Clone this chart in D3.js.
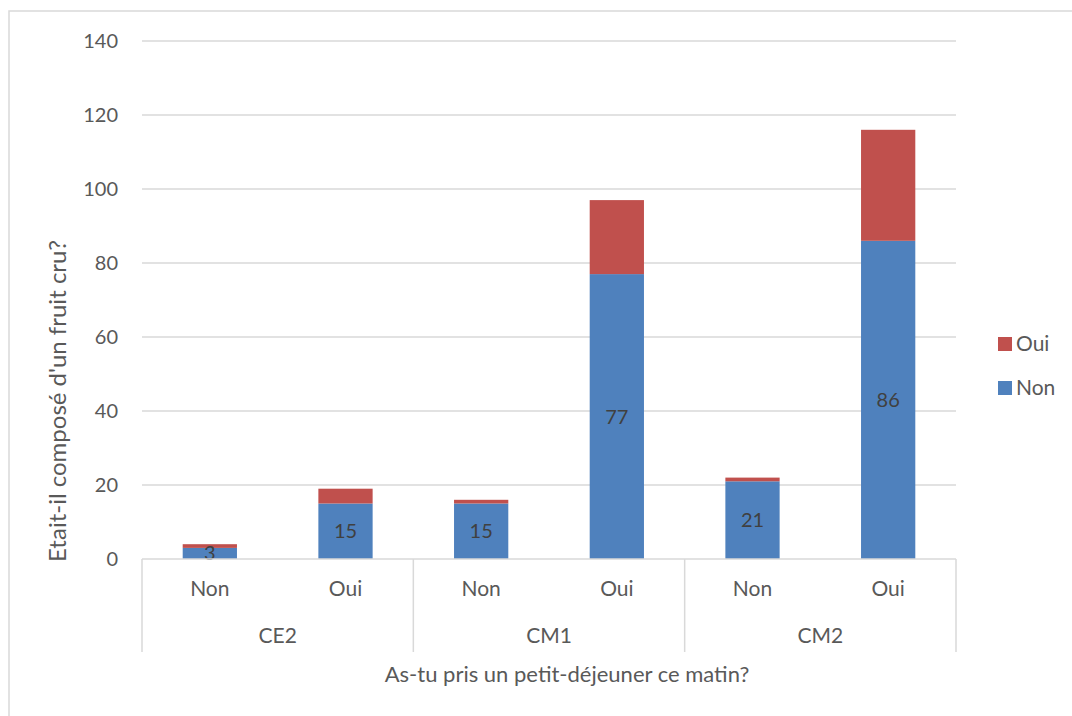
<!DOCTYPE html>
<meta charset="utf-8">
<style>
  body { margin: 0; background: white; }
  text { font-family: Lato, "Open Sans", sans-serif; fill: #595959; }
</style>
<script src="https://d3js.org/d3.v7.min.js"></script>
<div id="chart"></div>
<script>
// data
const groups = ["CE2", "CM1", "CM2"];
const answers = ["Non", "Oui"];
const nonValues = [3, 15, 15, 77, 21, 86];
const ouiValues = [1, 4, 1, 20, 1, 30];
const yTicks = [0, 20, 40, 60, 80, 100, 120, 140];
const seriesNames = ["Non", "Oui"];
const colors = {Non: "#4f81bd", Oui: "#c0504d"};

const W = 1072, H = 716;
const plotLeft = 142, plotRight = 956, plotTop = 41, plotBottom = 559;

const svg = d3.select("#chart").append("svg")
    .attr("width", W).attr("height", H);

// chart frame
svg.append("rect")
    .attr("x", 9).attr("y", 11)
    .attr("width", W + 10).attr("height", H + 10)
    .attr("fill", "white").attr("stroke", "#d9d9d9").attr("stroke-width", 1.5);

// build rows
const rows = [];
groups.forEach((g, gi) => answers.forEach((a, ai) => {
  const i = gi * answers.length + ai;
  rows.push({key: g + "|" + a, group: g, answer: a, Non: nonValues[i], Oui: ouiValues[i]});
}));

const y = d3.scaleLinear().domain([0, 140]).range([plotBottom, plotTop]);
const xg = d3.scaleBand().domain(groups).range([plotLeft, plotRight]);
const xa = d3.scaleBand().domain(answers).range([0, xg.bandwidth()]).paddingInner(0.6).paddingOuter(0.3);

// gridlines
svg.append("g").selectAll("line")
  .data(yTicks.filter(d => d > 0))
  .join("line")
    .attr("x1", plotLeft).attr("x2", plotRight)
    .attr("y1", d => y(d)).attr("y2", d => y(d))
    .attr("stroke", "#d9d9d9").attr("stroke-width", 1.3);

// y tick labels
svg.append("g").selectAll("text")
  .data(yTicks)
  .join("text")
    .attr("x", 118).attr("y", d => y(d))
    .attr("dy", "0.35em")
    .attr("text-anchor", "end")
    .style("font-size", "20px")
    .text(d => d);

// stacked bars
const stack = d3.stack().keys(seriesNames)(rows);
svg.append("g").selectAll("g")
  .data(stack)
  .join("g")
    .attr("fill", d => colors[d.key])
  .selectAll("rect")
  .data(d => d)
  .join("rect")
    .attr("x", d => xg(d.data.group) + xa(d.data.answer))
    .attr("width", xa.bandwidth())
    .attr("y", d => y(d[1]))
    .attr("height", d => y(d[0]) - y(d[1]));

// labels on the Non series
svg.append("g").selectAll("text")
  .data(stack[0])
  .join("text")
    .attr("x", d => xg(d.data.group) + xa(d.data.answer) + xa.bandwidth() / 2)
    .attr("y", d => (y(d[0]) + y(d[1])) / 2)
    .attr("dy", "0.35em")
    .attr("text-anchor", "middle")
    .style("font-size", "20px")
    .style("fill", "#404040")
    .text(d => d.data.Non);

// category axis
const axisG = svg.append("g").attr("stroke", "#d9d9d9").attr("stroke-width", 1.5);
axisG.append("line").attr("x1", plotLeft).attr("x2", plotRight).attr("y1", plotBottom).attr("y2", plotBottom);
axisG.selectAll(".sep")
  .data(groups.concat(["end"]))
  .join("line")
    .attr("x1", d => d === "end" ? plotRight : xg(d))
    .attr("x2", d => d === "end" ? plotRight : xg(d))
    .attr("y1", plotBottom).attr("y2", 652);

svg.append("g").selectAll("text")
  .data(rows)
  .join("text")
    .attr("x", d => xg(d.group) + xa(d.answer) + xa.bandwidth() / 2)
    .attr("y", 596)
    .attr("text-anchor", "middle")
    .style("font-size", "21px")
    .text(d => d.answer);

svg.append("g").selectAll("text")
  .data(groups)
  .join("text")
    .attr("x", d => xg(d) + xg.bandwidth() / 2)
    .attr("y", 643)
    .attr("text-anchor", "middle")
    .style("font-size", "21px")
    .text(d => d);

// axis titles
svg.append("text")
    .attr("x", 567).attr("y", 682)
    .attr("text-anchor", "middle")
    .style("font-size", "22px")
    .text("As-tu pris un petit-déjeuner ce matin?");

svg.append("text")
    .attr("transform", "translate(66, 401) rotate(-90)")
    .attr("text-anchor", "middle")
    .style("font-size", "24px")
    .text("Etait-il composé d'un fruit cru?");

// legend (Oui on top)
const legend = svg.append("g").selectAll("g")
  .data(["Oui", "Non"])
  .join("g")
    .attr("transform", (d, i) => `translate(998, ${344 + i * 44})`);
legend.append("rect")
    .attr("x", 0).attr("y", -7).attr("width", 14).attr("height", 14)
    .attr("fill", d => colors[d]);
legend.append("text")
    .attr("x", 18).attr("y", 0).attr("dy", "0.35em")
    .style("font-size", "21px")
    .text(d => d);
</script>
